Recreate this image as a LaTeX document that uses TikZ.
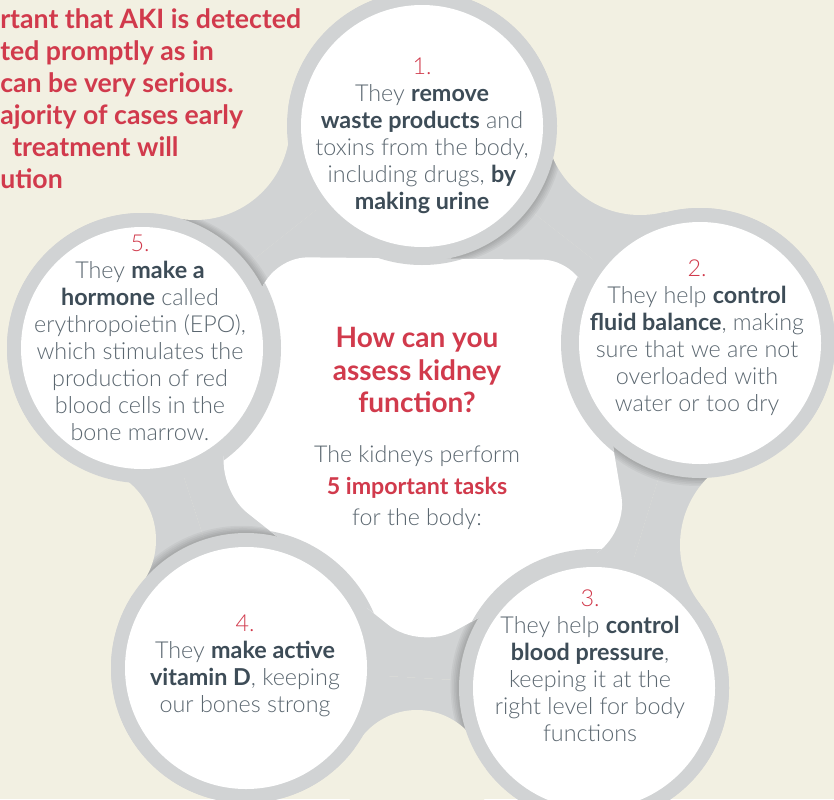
\documentclass[tikz,border=0pt]{standalone}
\usepackage{fontspec}
\setmainfont{Lato}[UprightFont=* Light, BoldFont=* Bold]
\usetikzlibrary{calc}
\definecolor{creambg}{HTML}{F2F0E2}
\definecolor{graybg}{HTML}{D1D3D4}
\definecolor{redtxt}{HTML}{D13A4C}
\definecolor{txtgray}{HTML}{5B6770}
\definecolor{boldgray}{HTML}{3D4C57}
\newcommand{\bd}[1]{{\bfseries\color{boldgray}#1}}
\newcommand{\rn}[1]{{\color{redtxt}#1}}
\tikzset{
  circtext/.style={align=center, text=txtgray, inner sep=0pt, font=\fontsize{17.5}{20.25}\selectfont},
  titletext/.style={align=center, text=redtxt, inner sep=0pt, font=\bfseries\fontsize{21}{24.4}\selectfont},
  blobtext/.style={align=center, text=txtgray, inner sep=0pt, font=\fontsize{17.4}{23.6}\selectfont},
  introtext/.style={align=left, text=redtxt, inner sep=0pt, anchor=north west, font=\bfseries\fontsize{20}{24}\selectfont},
  shadowc/.style={fill=black, opacity=0.04},
  blobpath/.style={rounded corners=30pt}
}
\begin{document}
\begin{tikzpicture}[x=0.75pt,y=-0.75pt]
\useasboundingbox (0,0) rectangle (834,799);
\clip (0,0) rectangle (834,799);
\fill[creambg] (0,0) rectangle (834,799);
% circle centres
\coordinate (c1) at (422,126);
\coordinate (c2) at (700,343);
\coordinate (c3) at (594,688);
\coordinate (c4) at (246,668);
\coordinate (c5) at (142,348);
\coordinate (mid) at (421,435);
% tongue centres
\coordinate (k12) at (640,120);
\coordinate (k23) at (776,545);
\coordinate (k34) at (417,780);
\coordinate (k45) at (81,540);
\coordinate (k51) at (195,125);
% blob corners
\coordinate (b1) at (582,260);
\coordinate (b2) at (628,536);
\coordinate (b3) at (420,650);
\coordinate (b4) at (216,488);
\coordinate (b5) at (268,257);
% gray base
\fill[graybg] (c1) -- (c2) -- (c3) -- (c4) -- (c5) -- cycle;
\fill[graybg] (c1) -- (k12) -- (c2) -- cycle;
\fill[graybg] (c2) -- (k23) -- (c3) -- cycle;
\fill[graybg] (c3) -- (k34) -- (c4) -- cycle;
\fill[graybg] (c4) -- (k45) -- (c5) -- cycle;
\fill[graybg] (c5) -- (k51) -- (c1) -- cycle;
\foreach \c in {c1,c2,c3,c4,c5} \fill[graybg] (\c) circle (135);
% shadows, each kept inside its own neck
\foreach \ca/\kk/\cb/\ang in {c1/k12/c2/40, c2/k23/c3/110, c3/k34/c4/188, c4/k45/c5/238, c5/k51/c1/-25} {
  \begin{scope}
    \clip (\ca) -- (\kk) -- (\cb) -- (mid) -- cycle;
    \foreach \s in {1,...,5} \fill[shadowc] ($(\ca)+(\ang:1.7*\s)$) circle (135);
  \end{scope}
}
% cream tongues
\fill[creambg] (k12) circle (95);
\fill[creambg] (k23) circle (96);
\fill[creambg] (k34) circle (70);
\fill[creambg] (k45) circle (75);
\fill[creambg] (k51) circle (95);
% central white blob
\fill[white, blobpath] (b1) -- (b2) -- (b3) -- (b4) -- (b5) -- cycle;
\begin{scope}
  \clip[blobpath] (b1) -- (b2) -- (b3) -- (b4) -- (b5) -- cycle;
  \foreach \c in {c1,c2,c3,c4,c5} \fill[graybg] (\c) circle (139);
\end{scope}
% circles
\foreach \c in {c1,c2,c3,c4,c5} {
  \fill[graybg] (\c) circle (135);
  \fill[white] (\c) circle (121);
}
% texts
\node[introtext] (intro) at (0,8) {rtant that AKI is detected\\ ted promptly as in\\ can be very serious.\\ ajority of cases early\\ \hspace*{9pt}treatment will\\ ution};
\node[circtext] (t1) at (422,136) {\rn{1.}\\ They \bd{remove}\\ \bd{waste products} and\\ toxins from the body,\\ including drugs, \bd{by}\\ \bd{making urine}};
\node[circtext] (t2) at (697,338) {\rn{2.}\\ They help \bd{control}\\ \bd{fluid balance}, making\\ sure that we are not\\ overloaded with\\ water or too dry};
\node[circtext] (t3) at (590,666) {\rn{3.}\\ They help \bd{control}\\ \bd{blood pressure},\\ keeping it at the\\ right level for body\\ functions};
\node[circtext] (t4) at (245,666) {\rn{4.}\\ They \bd{make active}\\ \bd{vitamin D}, keeping\\ our bones strong};
\node[circtext] (t5) at (140,338) {\rn{5.}\\ They \bd{make a}\\ \bd{hormone} called\\ erythropoietin (EPO),\\ which stimulates the\\ production of red\\ blood cells in the\\ bone marrow.};
\node[titletext] (title) at (417,370) {How can you\\ assess kidney\\ function?};
\node[blobtext] (body) at (417,488) {The kidneys perform\\ {\bfseries\color{redtxt}5 important tasks}\\ for the body:};
\end{tikzpicture}
\end{document}
